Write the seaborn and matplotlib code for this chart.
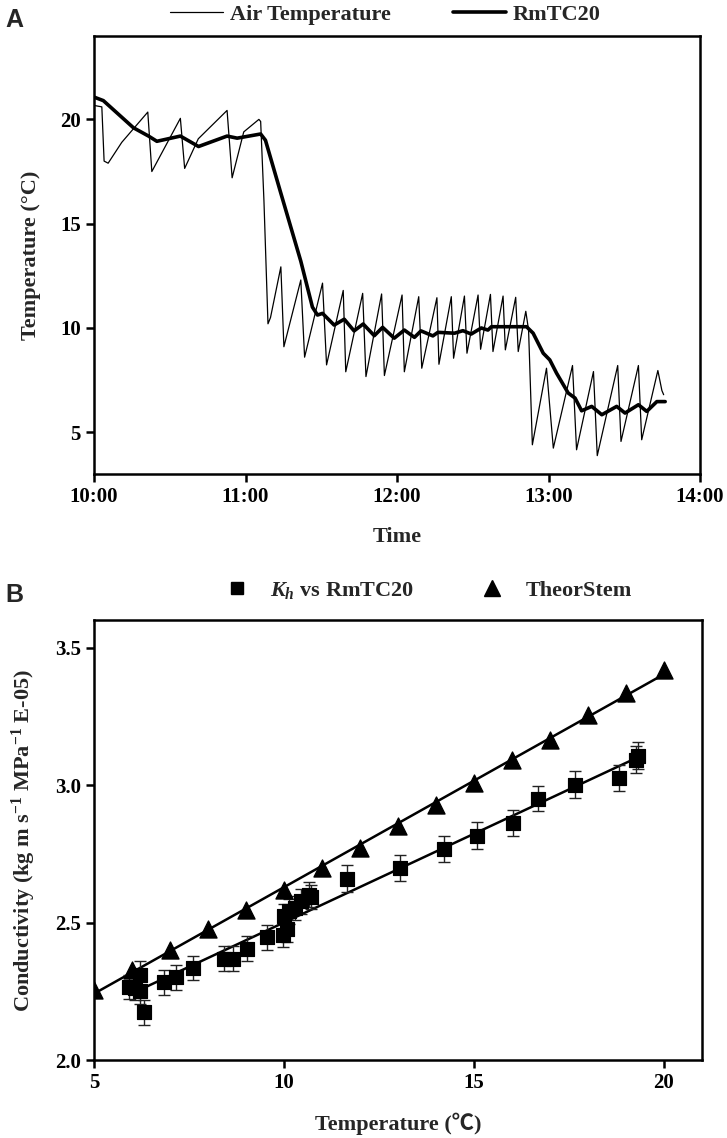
import matplotlib
matplotlib.use("Agg")
import matplotlib.pyplot as plt
from matplotlib.lines import Line2D
import seaborn as sns
import numpy as np
import pandas as pd

# ---------------- Panel A data (minutes after 10:00, temperature in C) -------------
air_min = [0.0, 3.1, 4.0, 5.6, 11.0, 21.3, 22.9, 34.2, 35.9, 41.3, 52.7, 54.7, 59.3,
           65.3, 66.0, 67.3, 68.9, 69.9, 74.0, 75.2, 81.9, 83.4, 90.5, 92.1, 98.7,
           99.7, 106.4, 107.7, 113.9, 115.0, 122.0, 122.9, 128.6, 129.8, 135.8, 136.6,
           141.5, 142.4, 146.7, 147.7, 152.1, 153.1, 157.0, 158.0, 162.0, 162.9, 167.0,
           168.0, 171.0, 172.1, 173.6, 179.2, 181.9, 189.5, 191.1, 197.8, 199.3, 207.4,
           208.7, 215.6, 216.9, 223.3, 224.9, 225.6]
air_temp = [20.67, 20.6, 18.0, 17.9, 18.9, 20.35, 17.5, 20.05, 17.65, 19.07, 20.43, 17.2,
            19.4, 20.0, 19.9, 16.1, 10.2, 10.5, 12.93, 9.1, 12.3, 8.6, 12.15, 8.23, 11.8,
            7.9, 11.66, 7.67, 11.63, 7.72, 11.58, 7.9, 11.5, 8.07, 11.45, 8.26, 11.5, 8.55,
            11.53, 8.79, 11.58, 8.98, 11.61, 8.87, 11.53, 8.95, 11.47, 8.87, 10.8, 9.9, 4.4,
            8.07, 4.24, 8.2, 4.16, 7.91, 3.88, 8.2, 4.56, 8.2, 4.64, 7.96, 7.0, 6.8]

rm_min = [0.0, 3.7, 15.6, 21.6, 24.9, 34.2, 41.4, 52.7, 56.7, 66.0, 67.9, 73.9, 81.9,
          86.5, 88.5, 90.5, 95.1, 99.1, 103.0, 106.6, 111.0, 114.3, 118.9, 122.9, 126.9,
          129.5, 134.2, 136.2, 142.8, 146.1, 149.4, 153.4, 156.0, 157.4, 171.3, 173.9,
          177.9, 180.5, 183.2, 187.8, 190.5, 193.1, 197.1, 201.1, 207.0, 210.3, 215.6,
          218.9, 222.9, 226.2]
rm_temp = [21.07, 20.9, 19.6, 19.2, 18.95, 19.2, 18.7, 19.2, 19.1, 19.3, 19.0, 16.5, 13.2,
           11.0, 10.62, 10.7, 10.14, 10.42, 9.86, 10.19, 9.63, 10.03, 9.51, 9.9, 9.55,
           9.86, 9.62, 9.79, 9.75, 9.87, 9.71, 10.0, 9.9, 10.06, 10.06, 9.75, 8.79, 8.47,
           7.83, 6.88, 6.64, 6.03, 6.24, 5.84, 6.24, 5.92, 6.32, 6.0, 6.47, 6.47]

time_ticks = [0, 60, 120, 180, 240]
time_labels = ["10:00", "11:00", "12:00", "13:00", "14:00"]

# ---------------- Panel B data -------------
kh_temp = [5.93, 6.08, 6.20, 6.21, 6.32, 6.83, 7.16, 7.60, 8.41, 8.67, 9.03, 9.56, 9.98,
           10.07, 10.00, 10.13, 10.30, 10.44, 10.66, 10.72, 11.67, 13.06, 14.20, 15.08,
           16.02, 16.68, 17.65, 18.81, 19.27, 19.32]
kh_cond = [2.266, 2.263, 2.311, 2.250, 2.174, 2.283, 2.301, 2.335, 2.369, 2.369, 2.405,
           2.447, 2.456, 2.475, 2.523, 2.541, 2.553, 2.577, 2.602, 2.593, 2.660, 2.699,
           2.768, 2.816, 2.862, 2.950, 3.002, 3.026, 3.093, 3.107]
kh_err = [0.045, 0.045, 0.048, 0.045, 0.046, 0.045, 0.045, 0.045, 0.045, 0.045, 0.045,
          0.045, 0.045, 0.045, 0.045, 0.045, 0.045, 0.045, 0.045, 0.045, 0.048, 0.048,
          0.048, 0.048, 0.048, 0.045, 0.048, 0.048, 0.05, 0.05]

theor_temp = [5, 6, 7, 8, 9, 10, 11, 12, 13, 14, 15, 16, 17, 18, 19, 20]
theor_cond = [2.256, 2.329, 2.402, 2.475, 2.547, 2.620, 2.699, 2.772, 2.850, 2.929, 3.008,
              3.093, 3.165, 3.256, 3.335, 3.420]

# ---------------- Style -------------
sns.set_style("ticks")
plt.rcParams.update({
    "font.family": ["Liberation Serif", "Noto Sans CJK SC", "DejaVu Sans"],
    "font.weight": "bold",
    "axes.labelweight": "bold",
    "mathtext.fontset": "custom",
    "mathtext.rm": "Liberation Serif:bold",
    "mathtext.it": "Liberation Serif:italic:bold",
    "mathtext.bf": "Liberation Serif:bold",
    "axes.linewidth": 1.8,
    "axes.edgecolor": "black",
    "xtick.color": "black", "ytick.color": "black",
    "xtick.major.width": 1.8, "ytick.major.width": 1.8,
    "xtick.major.size": 6, "ytick.major.size": 6,
    "xtick.direction": "out", "ytick.direction": "out",
    "xtick.labelsize": 15, "ytick.labelsize": 15,
    "axes.labelsize": 16,
})

fig = plt.figure(figsize=(7.27, 11.38), dpi=100)
axA = fig.add_axes([0.1293, 0.5835, 0.8336, 0.3849])
axB = fig.add_axes([0.1293, 0.0685, 0.8363, 0.3866])

# ---------------- Panel A -------------
dfa = pd.DataFrame({"t": air_min, "v": air_temp})
dfr = pd.DataFrame({"t": rm_min, "v": rm_temp})
sns.lineplot(data=dfa, x="t", y="v", ax=axA, color="black", lw=0.9, estimator=None, sort=False)
sns.lineplot(data=dfr, x="t", y="v", ax=axA, color="black", lw=2.6, estimator=None, sort=False)
axA.set_xlim(0, 240)
axA.set_ylim(3, 24)
axA.set_xticks(time_ticks)
axA.set_xticklabels(time_labels)
axA.set_yticks([5, 10, 15, 20])
axA.set_xlabel("Time", labelpad=14)
axA.set_ylabel("Temperature (°C)", labelpad=14)
for lab in axA.get_xticklabels() + axA.get_yticklabels():
    lab.set_fontweight("bold")

handlesA = [Line2D([], [], color="black", lw=0.9), Line2D([], [], color="black", lw=2.6)]
fig.legend(handlesA, ["Air Temperature", "RmTC20"], loc="center", bbox_to_anchor=(0.53, 0.987),
           ncol=2, frameon=False, fontsize=16, handlelength=2.4, handletextpad=0.3,
           columnspacing=2.8, prop={"weight": "bold", "size": 16})

# ---------------- Panel B -------------
dfk = pd.DataFrame({"T": kh_temp, "K": kh_cond})
dft = pd.DataFrame({"T": theor_temp, "K": theor_cond})
sns.regplot(data=dft, x="T", y="K", ax=axB, scatter=False, ci=None, color="black",
            line_kws={"lw": 1.8})
sns.regplot(data=dfk, x="T", y="K", ax=axB, scatter=False, ci=None, color="black",
            line_kws={"lw": 1.8})
axB.errorbar(kh_temp, kh_cond, yerr=kh_err, fmt="none", ecolor="#222222", elinewidth=1.0,
             capsize=4, capthick=1.0, zorder=3)
sns.scatterplot(data=dfk, x="T", y="K", ax=axB, marker="s", s=110, color="black",
                edgecolor="black", zorder=4)
sns.scatterplot(data=dft, x="T", y="K", ax=axB, marker="^", s=150, color="black",
                edgecolor="black", zorder=4)
axB.set_xlim(5, 21)
axB.set_ylim(2.0, 3.6)
axB.set_xticks([5, 10, 15, 20])
axB.set_yticks([2.0, 2.5, 3.0, 3.5])
axB.set_yticklabels(["2.0", "2.5", "3.0", "3.5"])
axB.set_xlabel("Temperature (℃)", labelpad=14)
axB.set_ylabel(r"Conductivity (kg m s$^{-1}$ MPa$^{-1}$ E-05)", labelpad=12)
for lab in axB.get_xticklabels() + axB.get_yticklabels():
    lab.set_fontweight("bold")

handlesB = [Line2D([], [], ls="none", marker="s", color="black", ms=9),
            Line2D([], [], ls="none", marker="^", color="black", ms=11)]
fig.legend(handlesB, [r"$K_h$ vs RmTC20", "TheorStem"], loc="center",
           bbox_to_anchor=(0.59, 0.481), ncol=2, frameon=False, handlelength=1.0,
           handletextpad=1.0, columnspacing=3.0, prop={"weight": "bold", "size": 16})

for ax in (axA, axB):
    for sp in ax.spines.values():
        sp.set_visible(True)
        sp.set_linewidth(1.8)

fig.text(0.008, 0.982, "A", family="Liberation Sans", weight="bold", fontsize=18, va="center")
fig.text(0.008, 0.477, "B", family="Liberation Sans", weight="bold", fontsize=18, va="center")

fig.savefig("out.png", dpi=100)
